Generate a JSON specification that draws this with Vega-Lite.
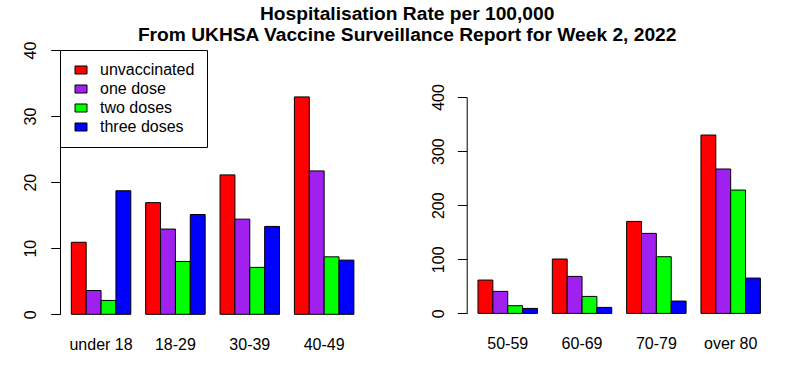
{
  "$schema": "https://vega.github.io/schema/vega-lite/v6.json",
  "background": "white",
  "padding": {"left": 0, "top": 4, "right": 0, "bottom": 0},
  "title": {
    "text": ["Hospitalisation Rate per 100,000", "From UKHSA Vaccine Surveillance Report for Week 2, 2022"],
    "font": "Liberation Sans",
    "fontSize": 19.2,
    "fontWeight": "bold",
    "color": "black",
    "anchor": "middle",
    "lineHeight": 21,
    "dx": 21,
    "offset": -4
  },
  "config": {
    "font": "Liberation Sans",
    "view": {"stroke": null},
    "axisX": {
      "domain": false,
      "ticks": false,
      "grid": false,
      "labelAngle": 0,
      "labelFontSize": 16,
      "labelColor": "black",
      "labelPadding": 22.5,
      "title": null
    },
    "axisY": {
      "domain": true,
      "domainColor": "black",
      "domainWidth": 1,
      "ticks": true,
      "tickColor": "black",
      "tickWidth": 1,
      "tickSize": 9.3,
      "grid": false,
      "labelAngle": 270,
      "labelAlign": "center",
      "labelBaseline": "alphabetic",
      "labelFontSize": 16,
      "labelColor": "black",
      "labelPadding": 15,
      "minExtent": 59.4,
      "maxExtent": 59.4,
      "title": null
    }
  },
  "datasets": {
    "young": [
      {"age": "under 18", "dose": "unvaccinated", "rate": 10.9},
      {"age": "under 18", "dose": "one dose", "rate": 3.6},
      {"age": "under 18", "dose": "two doses", "rate": 2.1},
      {"age": "under 18", "dose": "three doses", "rate": 18.7},
      {"age": "18-29", "dose": "unvaccinated", "rate": 16.9},
      {"age": "18-29", "dose": "one dose", "rate": 12.9},
      {"age": "18-29", "dose": "two doses", "rate": 8.0},
      {"age": "18-29", "dose": "three doses", "rate": 15.1},
      {"age": "30-39", "dose": "unvaccinated", "rate": 21.1},
      {"age": "30-39", "dose": "one dose", "rate": 14.4},
      {"age": "30-39", "dose": "two doses", "rate": 7.1},
      {"age": "30-39", "dose": "three doses", "rate": 13.3},
      {"age": "40-49", "dose": "unvaccinated", "rate": 32.9},
      {"age": "40-49", "dose": "one dose", "rate": 21.7},
      {"age": "40-49", "dose": "two doses", "rate": 8.7},
      {"age": "40-49", "dose": "three doses", "rate": 8.2}
    ],
    "old": [
      {"age": "50-59", "dose": "unvaccinated", "rate": 61.6},
      {"age": "50-59", "dose": "one dose", "rate": 40.7},
      {"age": "50-59", "dose": "two doses", "rate": 14.2},
      {"age": "50-59", "dose": "three doses", "rate": 9.2},
      {"age": "60-69", "dose": "unvaccinated", "rate": 100.5},
      {"age": "60-69", "dose": "one dose", "rate": 68.4},
      {"age": "60-69", "dose": "two doses", "rate": 31.4},
      {"age": "60-69", "dose": "three doses", "rate": 11.1},
      {"age": "70-79", "dose": "unvaccinated", "rate": 170.0},
      {"age": "70-79", "dose": "one dose", "rate": 147.9},
      {"age": "70-79", "dose": "two doses", "rate": 104.8},
      {"age": "70-79", "dose": "three doses", "rate": 22.8},
      {"age": "over 80", "dose": "unvaccinated", "rate": 329.7},
      {"age": "over 80", "dose": "one dose", "rate": 266.9},
      {"age": "over 80", "dose": "two doses", "rate": 228.0},
      {"age": "over 80", "dose": "three doses", "rate": 65.3}
    ]
  },
  "spacing": 40.7,
  "resolve": {"scale": {"color": "independent", "x": "independent", "y": "independent", "xOffset": "independent"}, "legend": {"color": "independent"}},
  "hconcat": [
    {
      "width": 305.2,
      "height": 264.3,
      "data": {"name": "young"},
      "mark": {"type": "bar", "stroke": "black", "strokeWidth": 1},
      "encoding": {
        "x": {"field": "age", "type": "nominal", "sort": ["under 18", "18-29", "30-39", "40-49"], "scale": {"paddingInner": 0.2, "paddingOuter": 0.152}, "title": null},
        "xOffset": {"field": "dose", "type": "nominal", "sort": ["unvaccinated", "one dose", "two doses", "three doses"], "scale": {"paddingInner": 0, "paddingOuter": 0}},
        "y": {"field": "rate", "type": "quantitative", "scale": {"domain": [0, 40], "nice": false, "zero": true}, "axis": {"values": [0, 10, 20, 30, 40]}, "title": null},
        "color": {
          "field": "dose", "type": "nominal",
          "scale": {"domain": ["unvaccinated", "one dose", "two doses", "three doses"], "range": ["#FF0000", "#A020F0", "#00FF00", "#0000FF"]},
          "legend": {
            "orient": "none", "legendX": 0, "legendY": 0, "title": null,
            "strokeColor": "black", "fillColor": "white", "padding": 12,
            "symbolType": "M-1,-0.667H1V0.667H-1Z", "symbolSize": 144,
            "symbolStrokeColor": "black", "symbolStrokeWidth": 1, "symbolOpacity": 1,
            "symbolOffset": 1, "labelOffset": 11, "labelFontSize": 16, "labelColor": "black",
            "rowPadding": 3
          }
        }
      }
    },
    {
      "spacing": 0,
      "vconcat": [
        {
          "width": 305,
          "height": 33,
          "data": {"values": [{"a": 1}]},
          "mark": {"type": "point", "opacity": 0}
        },
        {
          "width": 305,
          "height": 216.4,
          "data": {"name": "old"},
          "mark": {"type": "bar", "stroke": "black", "strokeWidth": 1},
          "encoding": {
            "x": {"field": "age", "type": "nominal", "sort": ["50-59", "60-69", "70-79", "over 80"], "scale": {"paddingInner": 0.2, "paddingOuter": 0.152}, "title": null},
            "xOffset": {"field": "dose", "type": "nominal", "sort": ["unvaccinated", "one dose", "two doses", "three doses"], "scale": {"paddingInner": 0, "paddingOuter": 0}},
            "y": {"field": "rate", "type": "quantitative", "scale": {"domain": [0, 400], "nice": false, "zero": true}, "axis": {"values": [0, 100, 200, 300, 400], "labelPadding": 13.7}, "title": null},
            "color": {
              "field": "dose", "type": "nominal",
              "scale": {"domain": ["unvaccinated", "one dose", "two doses", "three doses"], "range": ["#FF0000", "#A020F0", "#00FF00", "#0000FF"]},
              "legend": null
            }
          }
        }
      ]
    }
  ]
}
